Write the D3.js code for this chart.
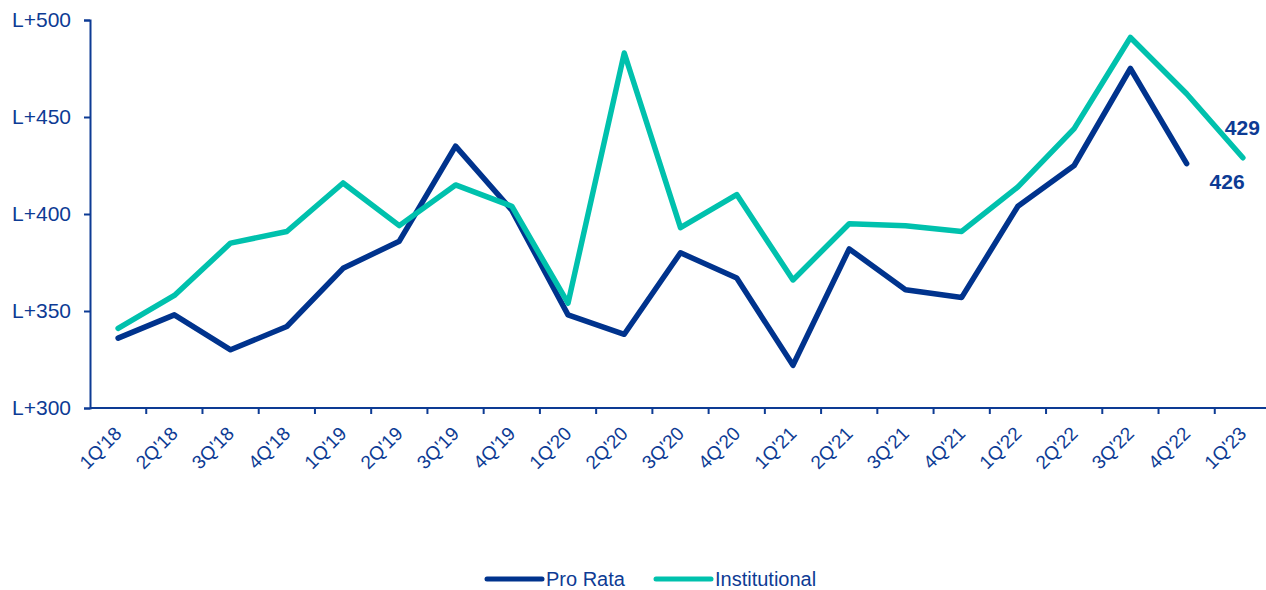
<!DOCTYPE html>
<html>
<head>
<meta charset="utf-8">
<script src="https://cdn.jsdelivr.net/npm/d3@7"></script>
<style>
  body { margin: 0; background: #fff; }
  svg { display: block; font-family: "Liberation Sans", Arial, sans-serif; }
</style>
</head>
<body>
<div id="chart"></div>
<script>
// quarters on the x axis
const quarters = ["1Q'18","2Q'18","3Q'18","4Q'18","1Q'19","2Q'19","3Q'19","4Q'19",
  "1Q'20","2Q'20","3Q'20","4Q'20","1Q'21","2Q'21","3Q'21","4Q'21",
  "1Q'22","2Q'22","3Q'22","4Q'22","1Q'23"];

// spreads over LIBOR, bps (Pro Rata has no 1Q'23 value)
const proRata = [336, 348, 330, 342, 372, 386, 435, 402, 348, 338, 380, 367,
  322, 382, 361, 357, 404, 425, 475, 426, null];
const institutional = [341, 358, 385, 391, 416, 394, 415, 404, 354, 483, 393, 410,
  366, 395, 394, 391, 414, 444, 491, 462, 429];

const yTicks = [300, 350, 400, 450, 500];
const seriesNames = ["Pro Rata", "Institutional"];

const width = 1266, height = 590;
const margins = {top: 20, right: -5, bottom: 182, left: 90};

const axisColor = "#0d3b94";
const colors = {"Pro Rata": "#00338d", "Institutional": "#00c1ad"};

const svg = d3.select("#chart")
  .append("svg")
    .attr("width", width)
    .attr("height", height);

const xScale = d3.scaleBand()
  .domain(quarters)
  .range([margins.left, width - margins.right])
  .padding(0);

const yScale = d3.scaleLinear()
  .domain([300, 500])
  .range([height - margins.bottom, margins.top]);

// y axis
const yAxis = d3.axisLeft(yScale)
  .tickValues(yTicks)
  .tickFormat(d => "L+" + d)
  .tickSize(6)
  .tickPadding(13);

const yGroup = svg.append("g")
  .attr("transform", `translate(${margins.left},0)`)
  .call(yAxis);
yGroup.select(".domain").attr("stroke", axisColor).attr("stroke-width", 2);
yGroup.selectAll(".tick line").attr("stroke", axisColor).attr("stroke-width", 2);
yGroup.selectAll(".tick text")
  .attr("fill", axisColor)
  .style("font-size", "21px");

// x axis: line, ticks between quarters, rotated labels
const y0 = yScale(300);
const xGroup = svg.append("g");
xGroup.append("line")
  .attr("x1", margins.left).attr("x2", width)
  .attr("y1", y0).attr("y2", y0)
  .attr("stroke", axisColor).attr("stroke-width", 2);

xGroup.selectAll("line.tick")
  .data(quarters.slice(1))
  .join("line")
    .attr("class", "tick")
    .attr("x1", d => xScale(d)).attr("x2", d => xScale(d))
    .attr("y1", y0).attr("y2", y0 + 6)
    .attr("stroke", axisColor).attr("stroke-width", 2);

xGroup.selectAll("text")
  .data(quarters)
  .join("text")
    .attr("transform", d => `translate(${xScale(d) + xScale.bandwidth() / 2},${y0 + 22}) rotate(-45)`)
    .attr("text-anchor", "end")
    .attr("dy", "0.35em")
    .attr("fill", axisColor)
    .style("font-size", "19px")
    .text(d => d);

// lines
const line = d3.line()
  .defined(d => d.v != null)
  .x(d => xScale(d.q) + xScale.bandwidth() / 2)
  .y(d => yScale(d.v));

const series = [
  {name: "Pro Rata", values: proRata},
  {name: "Institutional", values: institutional}
];

svg.selectAll("path.series")
  .data(series)
  .join("path")
    .attr("class", "series")
    .attr("d", s => line(quarters.map((q, i) => ({q, v: s.values[i]}))))
    .style("stroke", s => colors[s.name])
    .style("stroke-width", 5.5)
    .style("stroke-linejoin", "round")
    .style("stroke-linecap", "round")
    .style("fill", "none");

// end labels
const lastPR = proRata.length - 2;
const lastInst = institutional.length - 1;
svg.append("text")
  .attr("x", xScale(quarters[lastInst]) + xScale.bandwidth() / 2 + 17)
  .attr("y", yScale(institutional[lastInst]) - 23)
  .attr("text-anchor", "end")
  .attr("fill", axisColor)
  .style("font-size", "21px")
  .style("font-weight", "bold")
  .text(institutional[lastInst]);

svg.append("text")
  .attr("x", xScale(quarters[lastPR]) + xScale.bandwidth() / 2 + 58)
  .attr("y", yScale(proRata[lastPR]) + 25)
  .attr("text-anchor", "end")
  .attr("fill", axisColor)
  .style("font-size", "21px")
  .style("font-weight", "bold")
  .text(proRata[lastPR]);

// legend
const legendX = [487, 656];
const legend = svg.selectAll("g.legend")
  .data(seriesNames)
  .join("g")
    .attr("class", "legend")
    .attr("transform", (d, i) => `translate(${legendX[i]},579)`);
legend.append("line")
  .attr("x1", 0).attr("x2", 55)
  .attr("stroke", d => colors[d])
  .attr("stroke-width", 5)
  .attr("stroke-linecap", "round");
legend.append("text")
  .attr("x", 59)
  .attr("dy", "0.35em")
  .attr("fill", axisColor)
  .style("font-size", "20px")
  .text(d => d);
</script>
</body>
</html>
